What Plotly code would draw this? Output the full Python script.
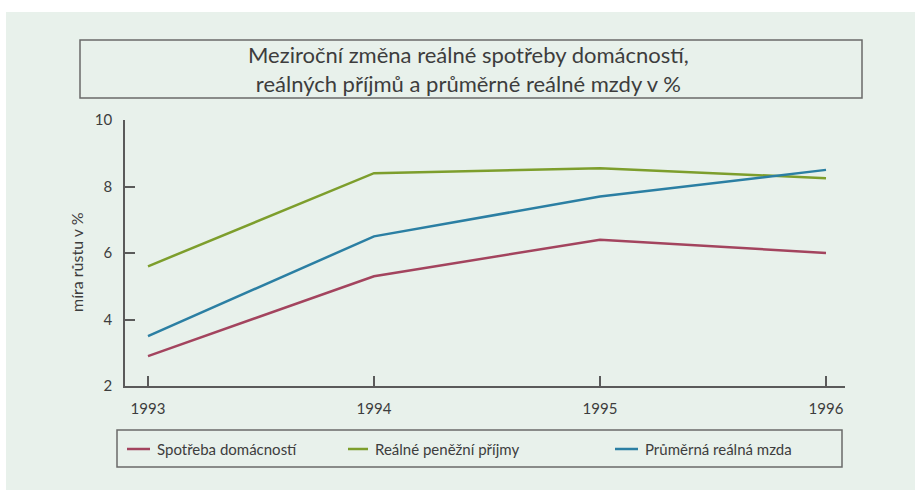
import plotly.graph_objects as go

years = [1993, 1994, 1995, 1996]
spotreba = [2.9, 5.3, 6.4, 6.0]
prijmy = [5.6, 8.4, 8.55, 8.25]
mzda = [3.5, 6.5, 7.7, 8.5]
names = ["Spotřeba domácností", "Reálné peněžní příjmy", "Průměrná reálná mzda"]
colors = ["#a3445e", "#7d9e2c", "#2b7fa3"]
title_lines = ["Meziroční změna reálné spotřeby domácností,", "reálných příjmů a průměrné reálné mzdy v %"]
ytitle = "míra růstu v %"
yticks = [2, 4, 6, 8, 10]

W, H = 915, 490
L, R, T, B = 125, 845, 120, 386
def xp(px):
    return (px - L) / (R - L)
def yp(py):
    return (B - py) / (B - T)

FONT = "Lato"
TXT = "#3d3d3d"
BG = "#e8f1eb"
AX = "#5a5a5a"

fig = go.Figure()
for vals, name, col in zip([spotreba, prijmy, mzda], names, colors):
    fig.add_trace(go.Scatter(x=years, y=vals, mode="lines", name=name,
                             line=dict(color=col, width=2.5), showlegend=False))

shapes = [
    dict(type="rect", xref="paper", yref="paper", x0=xp(6), x1=xp(915), y0=yp(490), y1=yp(12),
         fillcolor=BG, line=dict(width=0), layer="below"),
    dict(type="rect", xref="paper", yref="paper", x0=xp(80), x1=xp(862), y0=yp(98), y1=yp(40),
         line=dict(color="#6a6a6a", width=1.5), layer="below"),
    dict(type="rect", xref="paper", yref="paper", x0=xp(117), x1=xp(842), y0=yp(467), y1=yp(430),
         line=dict(color="#6a6a6a", width=1.5), layer="below"),
]
legend_x = [(127, 150), (348, 368), (615, 638)]
annotations = []
for (a, b), col, name in zip(legend_x, colors, names):
    shapes.append(dict(type="line", xref="paper", yref="paper", x0=xp(a), x1=xp(b),
                       y0=yp(449), y1=yp(449), line=dict(color=col, width=2.5)))
    annotations.append(dict(x=xp(b + 5), y=yp(449), xref="paper", yref="paper", text=name,
                            showarrow=False, xanchor="left", yanchor="middle",
                            font=dict(family=FONT, size=15, color=TXT)))
annotations.append(dict(x=xp(468), y=yp(69), xref="paper", yref="paper",
                        text="<br>".join(title_lines), showarrow=False,
                        xanchor="center", yanchor="middle",
                        font=dict(family=FONT, size=22, color=TXT)))
annotations.append(dict(x=xp(76), y=yp(262), xref="paper", yref="paper", text=ytitle,
                        showarrow=False, textangle=-90, xanchor="center", yanchor="middle",
                        font=dict(family=FONT, size=16, color=TXT)))

fig.update_layout(
    width=W, height=H,
    margin=dict(l=L, r=W - R, t=T, b=H - B, autoexpand=False),
    paper_bgcolor="white", plot_bgcolor="rgba(0,0,0,0)",
    shapes=shapes, annotations=annotations,
    font=dict(family=FONT, color=TXT),
)
fig.update_xaxes(range=[1993 - 23 / 226, 1996 + 19 / 226], tickvals=years,
                 ticktext=[str(y) for y in years], showgrid=False, zeroline=False,
                 showline=True, linecolor=AX, linewidth=1.5, ticks="inside", ticklen=10,
                 tickcolor=AX, tickwidth=1.5, tickfont=dict(size=15, color=TXT),
                 ticklabelstandoff=8)
fig.update_yaxes(range=[2, 10], tickvals=yticks, showgrid=False, zeroline=False,
                 showline=True, linecolor=AX, linewidth=1.5, ticks="inside", ticklen=10,
                 tickcolor=AX, tickwidth=1.5, tickfont=dict(size=15, color=TXT),
                 ticklabelstandoff=8)

fig.write_html("out.html", config={"displayModeBar": False},
               post_script="document.body.style.margin='0';document.body.style.padding='0';")
